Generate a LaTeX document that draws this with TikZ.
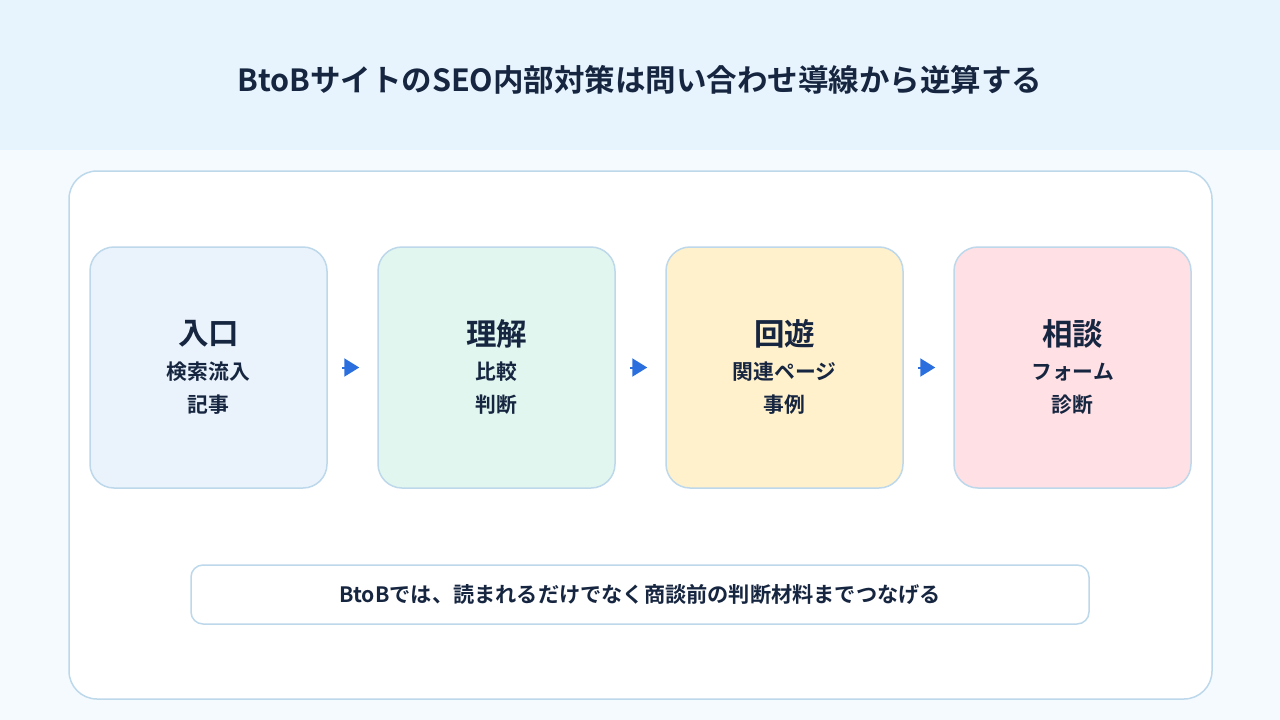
\documentclass[tikz,border=0pt]{standalone}
\usepackage{fontspec}
\setmainfont{Noto Sans CJK JP}[BoldFont={Noto Sans CJK JP Bold}]
\usetikzlibrary{arrows.meta}
\definecolor{hdr}{HTML}{E8F4FD}
\definecolor{pagebg}{HTML}{F5FAFE}
\definecolor{edge}{HTML}{BDD8EA}
\definecolor{ink}{HTML}{172640}
\definecolor{cblue}{HTML}{EAF3FC}
\definecolor{cgreen}{HTML}{E0F6EF}
\definecolor{cyellow}{HTML}{FFF1CC}
\definecolor{cpink}{HTML}{FFE0E5}
\definecolor{arr}{HTML}{2B6FDF}
\tikzset{
  card/.style={draw=edge, line width=1.5pt, rounded corners=24pt, minimum width=237pt, minimum height=241pt, inner sep=0pt},
  cardtext/.style={text=ink, font=\bfseries, align=center},
  flowarrow/.style={draw=arr, line width=2pt, -{Triangle[length=15pt,width=18pt]}},
}
\begin{document}
\begin{tikzpicture}[x=1pt,y=-1pt]
\useasboundingbox (0,0) rectangle (1280,720);
\fill[pagebg] (0,0) rectangle (1280,720);
\fill[hdr] (0,0) rectangle (1280,150);
\node[text=ink, font=\bfseries\fontsize{30.5}{36}\selectfont] (title) at (640,80) {BtoBサイトのSEO内部対策は問い合わせ導線から逆算する};
\draw[edge, fill=white, line width=1.5pt, rounded corners=28pt] (69,171) rectangle (1212,699);
\node[card, fill=cblue] (c1) at (208.5,367.5) {};
\node[card, fill=cgreen] (c2) at (496.5,367.5) {};
\node[card, fill=cyellow] (c3) at (784.5,367.5) {};
\node[card, fill=cpink] (c4) at (1072.5,367.5) {};
\foreach \c/\t/\a/\b in {c1/入口/検索流入/記事, c2/理解/比較/判断, c3/回遊/関連ページ/事例, c4/相談/フォーム/診断}{
  \node[cardtext, font=\bfseries\fontsize{30.5}{36}\selectfont] (\c t) at ([yshift=34pt]\c.center) {\t};
  \node[cardtext, font=\bfseries\fontsize{20.8}{33}\selectfont] (\c s) at ([yshift=-21pt]\c.center) {\a\\\b};
}
\foreach \p/\q in {c1/c2, c2/c3, c3/c4}{
  \draw[flowarrow] ([xshift=14pt]\p.east) -- ([xshift=-18pt]\q.west);
}
\draw[edge, fill=white, line width=1.5pt, rounded corners=12pt] (191,565) rectangle (1089,624);
\node[text=ink, font=\bfseries\fontsize{21.2}{25}\selectfont] (note) at (640,594) {BtoBでは、読まれるだけでなく商談前の判断材料までつなげる};
\end{tikzpicture}
\end{document}
